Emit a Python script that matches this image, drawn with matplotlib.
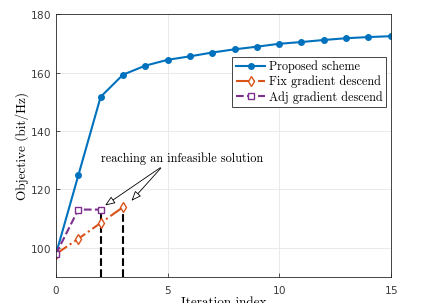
import matplotlib
matplotlib.use("Agg")
import matplotlib.pyplot as plt

iters = list(range(16))
proposed = [97.9, 124.8, 151.7, 159.3, 162.4, 164.4, 165.6, 166.9, 168.0, 168.9,
            169.9, 170.5, 171.2, 171.8, 172.2, 172.5]
fix_iters = [0, 1, 2, 3]
fix_vals = [97.9, 103.1, 108.5, 113.9]
adj_iters = [0, 1, 2]
adj_vals = [97.9, 113.1, 113.1]
xticks = [0, 5, 10, 15]
yticks = [100, 120, 140, 160, 180]

serif = ['cmr10', 'DejaVu Serif']
plt.rcParams['axes.formatter.use_mathtext'] = True

fig = plt.figure(figsize=(4.31, 3.03), dpi=100)
ax = fig.add_axes([56/431, 1-277/303, (390.7-56)/431, (277-14.3)/303])

ax.plot(iters, proposed, '-o', color='#0072BD', lw=1.5, ms=4, label='Proposed scheme')
ax.plot(fix_iters, fix_vals, '-.d', color='#D95319', lw=1.5, ms=5.5, mfc='white', mew=1.0,
        label='Fix gradient descend')
ax.plot(adj_iters, adj_vals, '--s', color='#7E2F8E', lw=1.5, ms=4, mfc='white', mew=1.0,
        label='Adj gradient descend')

ax.plot([2, 2], [90, 113], '--', color='black', lw=1.5, zorder=1)
ax.plot([3, 3], [90, 113.5], '--', color='black', lw=1.5, zorder=1)

ax.text(5.63, 130.5, 'reaching an infeasible solution', ha='center', va='center',
        fontsize=8.8, family=serif)
for tgt in [(2.1, 114.0), (3.3, 115.4)]:
    ax.annotate('', xy=tgt, xytext=(4.78, 128.0),
                arrowprops=dict(arrowstyle='-|>,head_length=0.5,head_width=0.2', color='black', lw=0.6,
                                mutation_scale=12, fc='white'))

ax.set_xlim(0, 15)
ax.set_ylim(90, 180)
ax.set_xticks(xticks)
ax.set_yticks(yticks)
ax.grid(True, color='#e6e6e6', lw=0.6)
ax.set_axisbelow(True)
ax.tick_params(direction='in', labelsize=7.5, colors='#3a3a3a', length=3, width=0.6)
ax.tick_params(axis='x', pad=5)
for s in ax.spines.values():
    s.set_color('#262626')
    s.set_linewidth(0.6)

ax.set_xlabel('Iteration index', fontsize=9.5, family=serif, labelpad=1)
ax.set_ylabel('Objective (bit/Hz)', fontsize=9.5, family=serif, labelpad=1)

leg = ax.legend(loc='upper right', bbox_to_anchor=(0.987, 0.838), prop={'family': serif, 'size': 8.8},
                fancybox=False, edgecolor='#262626', framealpha=1, borderpad=0.3,
                labelspacing=0.22, handlelength=2.4, handletextpad=0.3, borderaxespad=0)
leg.get_frame().set_linewidth(0.6)

fig.savefig('out.png', dpi=100)
